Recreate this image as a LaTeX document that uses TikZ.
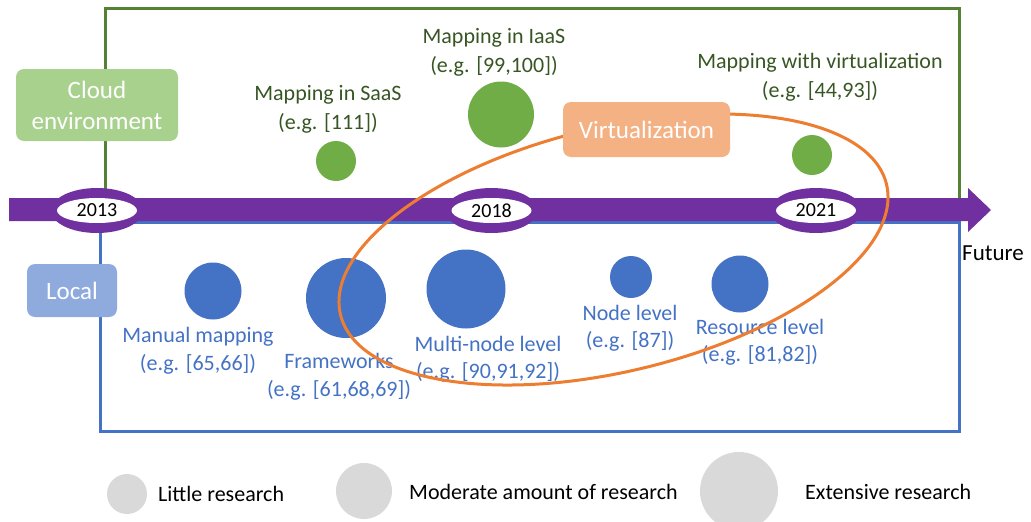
\documentclass[tikz,border=0pt]{standalone}
\usepackage{fontspec}
\setmainfont{Carlito}
\usetikzlibrary{shapes.geometric}
\definecolor{cloudline}{HTML}{548235}
\definecolor{cloudfill}{HTML}{A9D18E}
\definecolor{greencirc}{HTML}{70AD47}
\definecolor{greentext}{HTML}{375623}
\definecolor{bluecirc}{HTML}{4472C4}
\definecolor{localfill}{HTML}{8FAADC}
\definecolor{virtfill}{HTML}{F4B183}
\definecolor{virtorange}{HTML}{ED7D31}
\definecolor{axispurple}{HTML}{7030A0}
\definecolor{legendgray}{HTML}{D9D9D9}
\begin{document}
\begin{tikzpicture}[x=1pt,y=-1pt,
  cloudframe/.style={draw=cloudline, line width=3pt},
  localframe/.style={draw=bluecirc, line width=3pt},
  catbox/.style={rounded corners=8pt, inner sep=0pt, text=white, align=center,
    font=\fontsize{25}{31}\selectfont},
  dot/.style={circle, inner sep=0pt},
  gdot/.style={dot, fill=greencirc},
  bdot/.style={dot, fill=bluecirc},
  ldot/.style={dot, fill=legendgray},
  glabel/.style={text=greentext, align=center, inner sep=0pt, font=\fontsize{22}{28.5}\selectfont},
  blabel/.style={text=bluecirc, align=center, inner sep=0pt, font=\fontsize{22}{27.5}\selectfont},
  legtext/.style={anchor=west, inner sep=0pt, font=\fontsize{22}{27}\selectfont},
  ring/.style={ellipse, fill=axispurple, inner sep=0pt, minimum width=92pt, minimum height=45pt},
  yearlbl/.style={ellipse, fill=white, inner sep=0pt, minimum width=80pt, minimum height=25pt,
    font=\fontsize{20}{22}\selectfont},
  virtline/.style={draw=virtorange, line width=3pt}
]
\useasboundingbox (0,0) rectangle (1031,522);
% frames
\draw[cloudframe] (105,205) -- (105,8) -- (959,8) -- (959,205);
\draw[localframe] (100,222) rectangle (959,431);
% category boxes
\node[catbox, fill=cloudfill, minimum width=162pt, minimum height=72pt] (cloud) at (97,105) {Cloud\\environment};
\node[catbox, fill=localfill, minimum width=90pt, minimum height=53pt] (local) at (72,290.5) {Local};
% green circles
\node[gdot, minimum size=40pt] (saas) at (336,161) {};
\node[gdot, minimum size=66pt] (iaas) at (501,114.5) {};
\node[gdot, minimum size=40pt] (mvirt) at (812,155) {};
\node[glabel] (saaslbl) at (328,109.5) {Mapping in SaaS\\(e.g. [111])};
\node[glabel] (iaaslbl) at (494,52.5) {Mapping in IaaS\\(e.g. [99,100])};
\node[glabel] (mvirtlbl) at (820,77.5) {Mapping with virtualization\\(e.g. [44,93])};
% blue circles
\node[bdot, minimum size=57pt] (manual) at (213,291) {};
\node[bdot, minimum size=80pt] (frame) at (346,298) {};
\node[bdot, minimum size=79pt] (multi) at (466,289) {};
\node[bdot, minimum size=42pt] (nodel) at (631,277) {};
\node[bdot, minimum size=57pt] (res) at (740,284) {};
\node[blabel] (manuallbl) at (198,350.5) {Manual mapping\\(e.g. [65,66])};
\node[blabel] (framelbl) at (339,376.5) {Frameworks\\(e.g. [61,68,69])};
\node[blabel] (multilbl) at (488,359) {Multi-node level\\(e.g. [90,91,92])};
\node[blabel] (nodellbl) at (630,328) {Node level\\(e.g. [87])};
\node[blabel] (reslbl) at (760,342) {Resource level\\(e.g. [81,82])};
% axis
\fill[axispurple] (9,198) -- (968,198) -- (968,188) -- (991,210) -- (968,232) -- (968,221) -- (9,221) -- cycle;
\node[ring] (r2013) at (97,210.5) {};
\node[yearlbl] (y2013) at (97,210.5) {2013};
\node[ring] (r2018) at (491.5,210.5) {};
\node[yearlbl] (y2018) at (491.5,210.5) {2018};
\node[ring] (r2021) at (816,210.5) {};
\node[yearlbl] (y2021) at (816,210.5) {2021};
\node[anchor=west, inner sep=0pt, font=\fontsize{23}{27}\selectfont] (future) at (962,253) {Future};
% virtualization ellipse
\draw[virtline, rotate around={13.4:(613.5,249.5)}] (613.5,249.5) ellipse [x radius=280.7pt, y radius=122.2pt];
\node[catbox, fill=virtfill, minimum width=167pt, minimum height=55pt] (virt) at (646.5,129.5) {Virtualization};
% legend
\node[ldot, minimum size=40pt] (little) at (127,494) {};
\node[legtext] (littlelbl) at (158,494) {Little research};
\node[ldot, minimum size=56pt] (moderate) at (364,491) {};
\node[legtext] (moderatelbl) at (409,492) {Moderate amount of research};
\node[ldot, minimum size=78pt] (extensive) at (739,491) {};
\node[legtext] (extensivelbl) at (805,492) {Extensive research};
\end{tikzpicture}
\end{document}
